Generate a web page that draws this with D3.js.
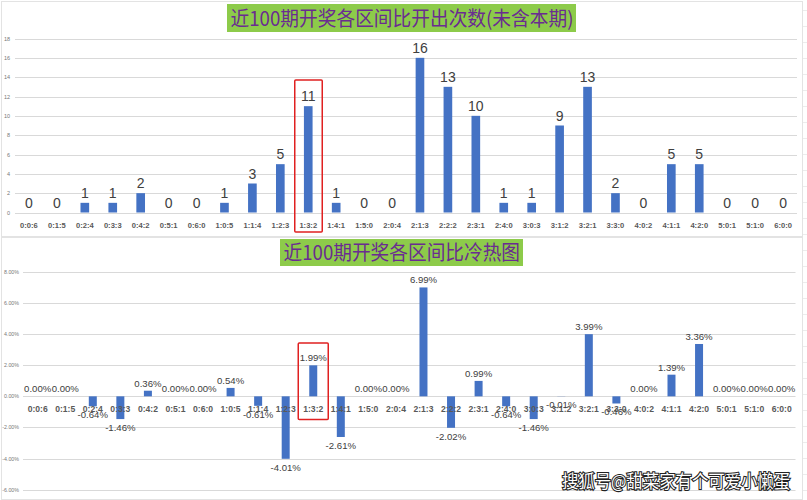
<!DOCTYPE html>
<html><head><meta charset="utf-8">
<script src="https://cdn.jsdelivr.net/npm/d3@7/dist/d3.min.js"></script>
<style>
html,body{margin:0;padding:0;background:#fff;}
svg{display:block;}
</style></head>
<body>
<svg id="c" width="807" height="500"></svg>
<script>
const categories = ["0:0:6","0:1:5","0:2:4","0:3:3","0:4:2","0:5:1","0:6:0","1:0:5","1:1:4","1:2:3","1:3:2","1:4:1","1:5:0","2:0:4","2:1:3","2:2:2","2:3:1","2:4:0","3:0:3","3:1:2","3:2:1","3:3:0","4:0:2","4:1:1","4:2:0","5:0:1","5:1:0","6:0:0"];
const counts = [0,0,1,1,2,0,0,1,3,5,11,1,0,0,16,13,10,1,1,9,13,2,0,5,5,0,0,0];
const heat = [0.00,0.00,-0.64,-1.46,0.36,0.00,0.00,0.54,-0.61,-4.01,1.99,-2.61,0.00,0.00,6.99,-2.02,0.99,-0.64,-1.46,-0.01,3.99,-0.46,0.00,1.39,3.36,0.00,0.00,0.00];
const countTicks = [0,2,4,6,8,10,12,14,16,18];
const heatTicks = [-6,-4,-2,0,2,4,6,8];
const title1 = "近100期开奖各区间比开出次数(未含本期)";
const title2 = "近100期开奖各区间比冷热图";
const highlight = "1:3:2";
const watermark = "搜狐号@甜菜家有个可爱小懒蛋";

const svg = d3.select("#c");
const barColor = "#4472C4";
const gridColor = "#d9d9d9";
const labelFont = "'Liberation Sans', Arial, sans-serif";

// panel frames
svg.append("rect").attr("x",1.5).attr("y",1.5).attr("width",801).attr("height",235).attr("fill","none").attr("stroke","#e3e3e3");
svg.append("rect").attr("x",1.5).attr("y",237.5).attr("width",801).attr("height",262).attr("fill","none").attr("stroke","#e3e3e3");
// spreadsheet cells on the right
for (let y = 10; y < 500; y += 16) {
  svg.append("line").attr("x1",803).attr("x2",807).attr("y1",y+0.5).attr("y2",y+0.5).attr("stroke","#ececec");
}

// ---------- Top chart ----------
const x1 = d3.scaleBand().domain(categories).range([15, 797]).paddingInner(0.69).paddingOuter(0.345);
const y1 = d3.scaleLinear().domain([0, 18]).range([212.5, 38.5]);

const g1 = svg.append("g");
g1.append("g").selectAll("line").data(countTicks).join("line")
  .attr("x1", 15).attr("x2", 797)
  .attr("y1", d => Math.round(y1(d)) + 0.5).attr("y2", d => Math.round(y1(d)) + 0.5)
  .attr("stroke", gridColor).attr("stroke-width", 1);
g1.append("g").selectAll("text").data(countTicks).join("text")
  .attr("x", 10).attr("y", d => y1(d) + 2)
  .attr("text-anchor", "end").attr("font-family", labelFont).attr("font-size", 5.5).attr("fill", "#777")
  .text(d => d);
g1.append("g").selectAll("rect").data(counts).join("rect")
  .attr("x", (d,i) => x1(categories[i])).attr("width", x1.bandwidth())
  .attr("y", d => y1(d)).attr("height", d => y1(0) - y1(d))
  .attr("fill", barColor);
g1.append("g").selectAll("text").data(counts).join("text")
  .attr("x", (d,i) => x1(categories[i]) + x1.bandwidth()/2)
  .attr("y", d => y1(d) - 5)
  .attr("text-anchor", "middle").attr("font-family", labelFont).attr("font-size", 14).attr("fill", "#404040")
  .text(d => d);
g1.append("g").selectAll("text").data(categories).join("text")
  .attr("x", d => x1(d) + x1.bandwidth()/2).attr("y", 228)
  .attr("text-anchor", "middle").attr("font-family", labelFont).attr("font-size", 7.6).attr("font-weight", "bold").attr("fill", "#595959")
  .text(d => d);
// highlight box
g1.append("rect")
  .attr("x", x1(highlight) + x1.bandwidth()/2 - 13.5).attr("width", 27.5)
  .attr("y", 80).attr("height", 152)
  .attr("fill", "none").attr("stroke", "#e02020").attr("stroke-width", 1.5).attr("rx", 1);

// title 1
svg.append("rect").attr("x", 227).attr("y", 4).attr("width", 349).attr("height", 28).attr("fill", "#8DCB4A");
svg.append("text").attr("x", 230.5).attr("y", 26)
  .attr("font-family", "'Noto Sans CJK SC', sans-serif").attr("font-size", 20)
  .attr("fill", "#6A2C91").attr("textLength", 343).attr("lengthAdjust", "spacingAndGlyphs")
  .text(title1);

// ---------- Bottom chart ----------
const x2 = d3.scaleBand().domain(categories).range([23.9, 795.5]).paddingInner(0.71).paddingOuter(0.355);
const y2 = d3.scaleLinear().domain([-6, 8]).range([489.8, 271.7]);

const g2 = svg.append("g");
g2.append("g").selectAll("line").data(heatTicks).join("line")
  .attr("x1", 23).attr("x2", 795.5)
  .attr("y1", d => Math.round(y2(d)) + 0.5).attr("y2", d => Math.round(y2(d)) + 0.5)
  .attr("stroke", gridColor).attr("stroke-width", 1);
g2.append("g").selectAll("text").data(heatTicks).join("text")
  .attr("x", 19).attr("y", d => y2(d) + 2)
  .attr("text-anchor", "end").attr("font-family", labelFont).attr("font-size", 5.3).attr("fill", "#777")
  .text(d => d.toFixed(2) + "%");
g2.append("g").selectAll("rect").data(heat).join("rect")
  .attr("x", (d,i) => x2(categories[i])).attr("width", x2.bandwidth())
  .attr("y", d => y2(Math.max(0, d))).attr("height", d => Math.abs(y2(d) - y2(0)))
  .attr("fill", barColor);
g2.append("g").selectAll("text").data(categories).join("text")
  .attr("x", d => x2(d) + x2.bandwidth()/2).attr("y", 412)
  .attr("text-anchor", "middle").attr("font-family", labelFont).attr("font-size", 8.6).attr("font-weight", "bold").attr("fill", "#595959")
  .text(d => d);
g2.append("g").selectAll("text").data(heat).join("text")
  .attr("x", (d,i) => x2(categories[i]) + x2.bandwidth()/2)
  .attr("y", d => d < 0 ? y2(d) + 12 : y2(d) - 4)
  .attr("text-anchor", "middle").attr("font-family", labelFont).attr("font-size", 9.6).attr("fill", "#404040")
  .text(d => d.toFixed(2) + "%");
g2.append("rect")
  .attr("x", x2(highlight) + x2.bandwidth()/2 - 15).attr("width", 30)
  .attr("y", 343).attr("height", 76.5)
  .attr("fill", "none").attr("stroke", "#e02020").attr("stroke-width", 1.5).attr("rx", 1);

// title 2
svg.append("rect").attr("x", 280).attr("y", 239).attr("width", 243).attr("height", 27).attr("fill", "#8DCB4A");
svg.append("text").attr("x", 283.5).attr("y", 260)
  .attr("font-family", "'Noto Sans CJK SC', sans-serif").attr("font-size", 20)
  .attr("fill", "#6A2C91").attr("textLength", 236.5).attr("lengthAdjust", "spacingAndGlyphs")
  .text(title2);

// watermark
svg.append("text").attr("x", 562).attr("y", 488)
  .attr("font-family", "'Noto Sans CJK SC', sans-serif").attr("font-size", 18)
  .attr("fill", "#fff").attr("stroke", "#222").attr("stroke-width", 2.2).attr("paint-order", "stroke")
  .attr("textLength", 228).attr("lengthAdjust", "spacingAndGlyphs")
  .text(watermark);
</script>
</body></html>
